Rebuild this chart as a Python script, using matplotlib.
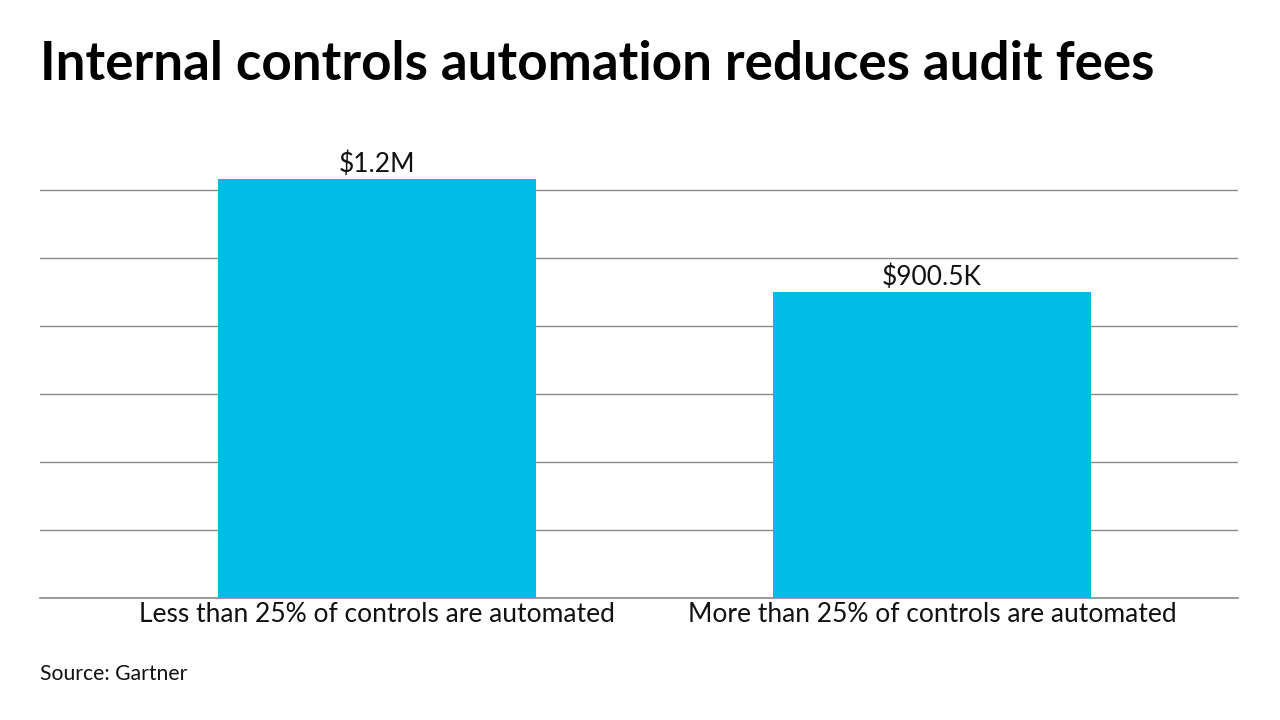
import matplotlib.pyplot as plt

categories = ["Less than 25% of controls are automated",
              "More than 25% of controls are automated"]
fees = [1233000, 900500]
fee_labels = ["$1.2M", "$900.5K"]
grid_values = [0, 200000, 400000, 600000, 800000, 1000000, 1200000]

plt.rcParams['font.family'] = ['Lato', 'DejaVu Sans']

fig = plt.figure(figsize=(12.8, 7.2), dpi=100)
ax = fig.add_axes([40 / 1280, 122 / 720, 1198 / 1280, 442 / 720])

x = [0, 1]
ax.bar(x, fees, width=0.573, color='#00BCE4', zorder=3)
for xi, v, lab in zip(x, fees, fee_labels):
    ax.text(xi, v + 4000, lab, ha='center', va='bottom', fontsize=19, color='#111111')

ax.set_xlim(-0.607, 1.551)
ax.set_ylim(0, 1300000)
ax.set_yticks(grid_values)
ax.yaxis.grid(True, color='#8a8a8a', linewidth=1)
ax.tick_params(axis='y', left=False, labelleft=False)
ax.set_xticks(x)
ax.set_xticklabels(categories, fontsize=19, color='#111111')
ax.tick_params(axis='x', length=0, pad=3)
for s in ['top', 'right', 'left']:
    ax.spines[s].set_visible(False)
ax.spines['bottom'].set_color('#8a8a8a')
ax.spines['bottom'].set_linewidth(1.2)

fig.text(40 / 1280, 1 - 80 / 720, "Internal controls automation reduces audit fees",
         fontsize=38.2, fontweight='bold', color='black', va='baseline')
fig.text(40 / 1280, 1 - 680 / 720, "Source: Gartner", fontsize=15.2, color='#111111',
         va='baseline')

fig.savefig("out.png", dpi=100)
